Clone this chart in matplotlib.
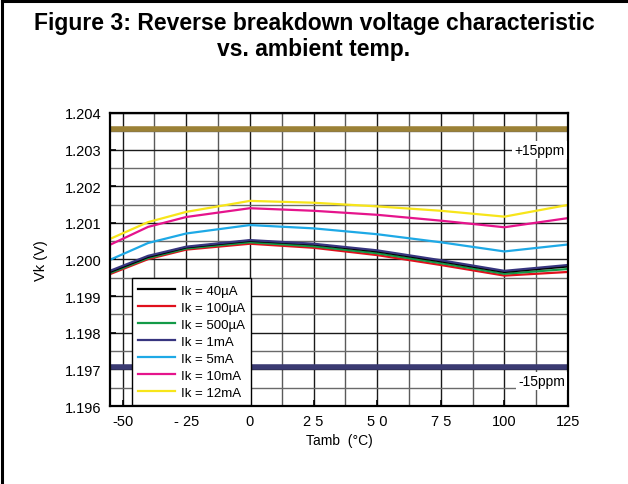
import matplotlib
matplotlib.use('Agg')
import matplotlib.pyplot as plt
from matplotlib.lines import Line2D

plt.rcParams['font.family'] = ['Liberation Sans', 'DejaVu Sans']

# temperature points (degC)
temps = [-55, -40, -25, 0, 25, 50, 75, 100, 125]

# Vk (V), one list per test current
vk_40uA = [1.19966, 1.20007, 1.20033, 1.20051, 1.20041, 1.20022, 1.19995, 1.19966, 1.19981]
vk_100uA = [1.19960, 1.20001, 1.20027, 1.20043, 1.20032, 1.20012, 1.19985, 1.19956, 1.19966]
vk_500uA = [1.19963, 1.20004, 1.20030, 1.20047, 1.20036, 1.20017, 1.19990, 1.19961, 1.19974]
vk_1mA = [1.19969, 1.20010, 1.20035, 1.20053, 1.20043, 1.20025, 1.19998, 1.19969, 1.19985]
vk_5mA = [1.19999, 1.20045, 1.20071, 1.20094, 1.20085, 1.20069, 1.20047, 1.20022, 1.20041]
vk_10mA = [1.20040, 1.20089, 1.20116, 1.20140, 1.20133, 1.20122, 1.20106, 1.20088, 1.20113]
vk_12mA = [1.20056, 1.20102, 1.20130, 1.20160, 1.20155, 1.20145, 1.20133, 1.20117, 1.20149]

labels = ['Ik = 40\u00b5A', 'Ik = 100\u00b5A', 'Ik = 500\u00b5A', 'Ik = 1mA',
          'Ik = 5mA', 'Ik = 10mA', 'Ik = 12mA']
colors = ['#000000', '#e0101c', '#139a48', '#37357f', '#1ea9e6', '#e5148c', '#f7e51a']

# +/-15 ppm limit lines
upper_limit = 1.20356
lower_limit = 1.19707

xticks = [-50, -25, 0, 25, 50, 75, 100, 125]
xticklabels = ['-50', '- 25', '0', '2 5', '5 0', '7 5', '100', '125']
yticks = [1.196, 1.197, 1.198, 1.199, 1.200, 1.201, 1.202, 1.203, 1.204]


fig = plt.figure(figsize=(6.28, 4.85), dpi=100)
ax = fig.add_axes([0.175, 0.1608, 0.7295, 0.6042])

# grid every 12.5 degC / 0.5 mV
for i in range(15):
    gx = -50 + 12.5 * i
    ax.axvline(gx, color='#1a1a1a' if i % 2 == 0 else '#5a5a5a', lw=1.0, zorder=1)
for i in range(17):
    gy = 1.196 + 0.0005 * i
    ax.axhline(gy, color='#1a1a1a' if i % 2 == 0 else '#6a6a6a', lw=1.0, zorder=1)

ax.axhline(upper_limit, color='#9b8136', lw=4, zorder=2)
ax.axhline(lower_limit, color='#3a3a72', lw=4, zorder=2)

series = [vk_40uA, vk_100uA, vk_500uA, vk_1mA, vk_5mA, vk_10mA, vk_12mA]
draw_order = [4, 5, 6, 1, 2, 0, 3]
for k in draw_order:
    ax.plot(temps, series[k], color=colors[k], lw=1.6, zorder=3)

ax.set_xlim(-55, 125)
ax.set_ylim(1.196, 1.204)
ax.set_xticks(xticks)
ax.set_xticklabels(xticklabels)
ax.set_yticks(yticks)
ax.set_yticklabels(['%.3f' % v for v in yticks])
ax.tick_params(direction='in', length=4, width=1.2, labelsize=10.5, pad=6)
for s in ax.spines.values():
    s.set_linewidth(1.6)
    s.set_zorder(5)

ax.set_xlabel('Tamb  (\u00b0C)', fontsize=10, labelpad=3)
ax.set_ylabel('Vk (V)', fontsize=10.5, labelpad=12)

ax.text(0.993, 0.875, '+15ppm', transform=ax.transAxes, ha='right', va='center',
        fontsize=10, zorder=6,
        bbox=dict(facecolor='white', edgecolor='none', pad=1.5))
ax.text(0.993, 0.085, '-15ppm', transform=ax.transAxes, ha='right', va='center',
        fontsize=10, zorder=6,
        bbox=dict(facecolor='white', edgecolor='none', pad=1.5))

handles = [Line2D([0], [0], color=colors[k], lw=1.6) for k in range(7)]
leg = ax.legend(handles, labels, loc='lower left', bbox_to_anchor=(0.048, 0.003),
                borderaxespad=0, fontsize=9.5, handlelength=2.8, handletextpad=0.4,
                labelspacing=0.36, frameon=True, fancybox=False, framealpha=1,
                edgecolor='black', borderpad=0.5)
leg.get_frame().set_linewidth(1.0)
leg.set_zorder(7)

fig.text(0.5, 0.925, 'Figure 3: Reverse breakdown voltage characteristic\nvs. ambient temp.',
         ha='center', va='center', fontsize=16.5, fontweight='bold', linespacing=1.15)

# frame lines of the original figure box (top and left)
fig.add_artist(Line2D([0.003, 0.003], [0, 0.996], color='black', lw=2.2))
fig.add_artist(Line2D([0.003, 1.0], [0.996, 0.996], color='black', lw=2.2))

fig.savefig('out.png', dpi=100)
